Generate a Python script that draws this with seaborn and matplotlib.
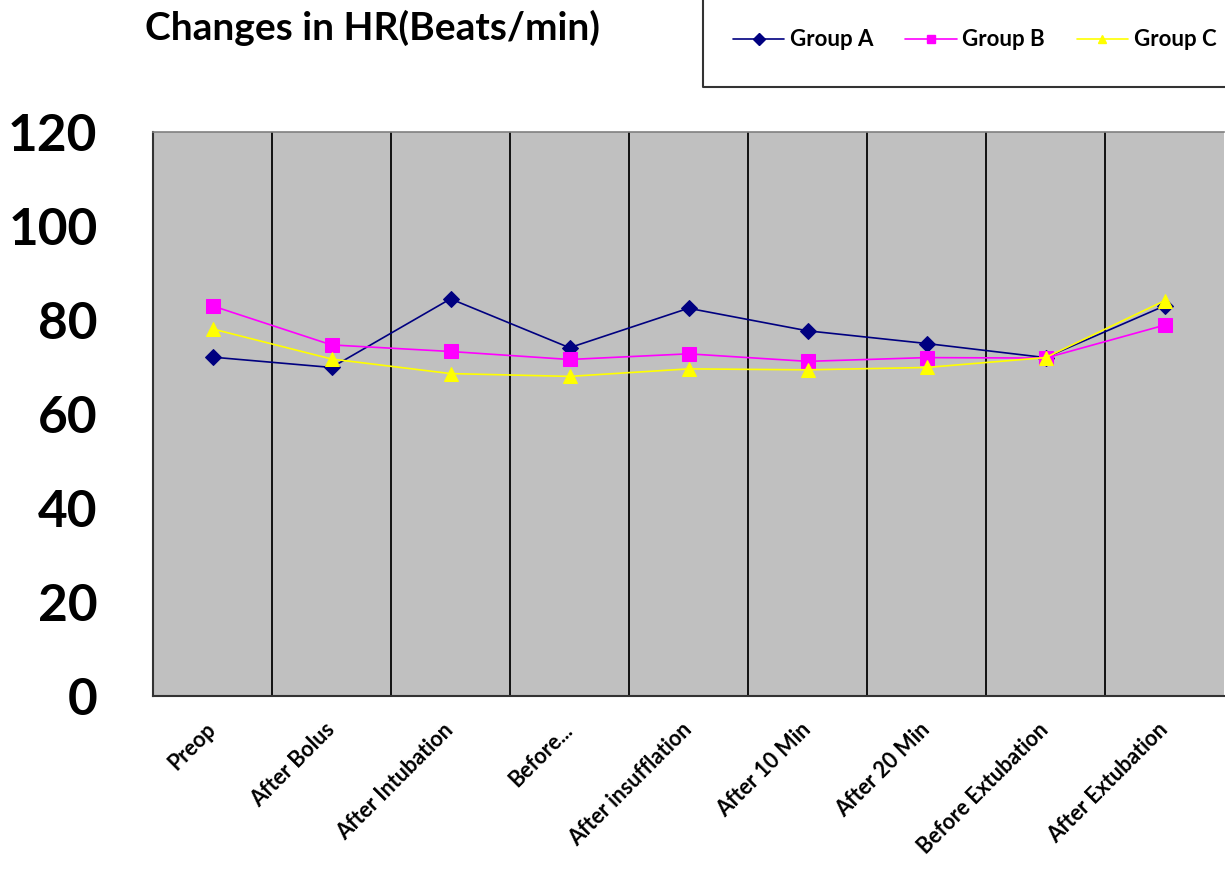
import matplotlib
matplotlib.use("Agg")
import matplotlib.pyplot as plt
import seaborn as sns
import pandas as pd
from matplotlib.lines import Line2D

categories = ["Preop", "After Bolus", "After Intubation", "Before...",
              "After insufflation", "After 10 Min", "After 20 Min",
              "Before Extubation", "After Extubation"]
group_a = [72.1, 69.9, 84.5, 74.1, 82.5, 77.7, 75.0, 72.0, 83.0]
group_b = [83.0, 74.7, 73.3, 71.6, 72.8, 71.2, 72.0, 71.9, 78.9]
group_c = [78.1, 71.7, 68.6, 68.0, 69.6, 69.4, 69.9, 72.0, 84.1]
series_names = ["Group A", "Group B", "Group C"]
y_ticks = [0, 20, 40, 60, 80, 100, 120]
title = "Changes in HR(Beats/min)"

rows = []
for name, vals in zip(series_names, [group_a, group_b, group_c]):
    for i, v in enumerate(vals):
        rows.append({"pos": i, "value": v, "group": name})
df = pd.DataFrame(rows)

sns.set_style("white")
plt.rcParams["font.family"] = ["Lato", "DejaVu Sans"]
plt.rcParams["text.color"] = "black"
plt.rcParams["xtick.color"] = "black"
plt.rcParams["ytick.color"] = "black"

W, H = 1225, 873
fig = plt.figure(figsize=(W / 100, H / 100), dpi=100)
ax = fig.add_axes([153 / W, 1 - 696 / H, (1224 - 153) / W, (696 - 132) / H])
ax.set_facecolor("#C0C0C0")

palette = {"Group A": "#000080", "Group B": "#FF00FF", "Group C": "#FFFF00"}
markers = {"Group A": "D", "Group B": "s", "Group C": "^"}
sns.lineplot(data=df, x="pos", y="value", hue="group", style="group",
             palette=palette, markers=markers, dashes=False, ax=ax,
             linewidth=1.2, markersize=9)

msizes = {"Group A": 8, "Group B": 10, "Group C": 10}
for line, name in zip(ax.lines[:3], series_names):
    line.set_markeredgecolor(palette[name])
    line.set_markersize(msizes[name])
    line.set_zorder(5)

leg = ax.get_legend()
if leg is not None:
    leg.remove()

ax.set_xlim(-0.5, len(categories) - 0.5)
ax.set_ylim(0, 120)
ax.set_xlabel("")
ax.set_ylabel("")

# vertical separators
for b in range(1, len(categories)):
    ax.axvline(b - 0.5, color="#111111", lw=1.4, zorder=1)

ax.set_xticks(range(len(categories)))
ax.set_xticklabels(categories, rotation=45, ha="right", va="center",
                   rotation_mode="anchor", fontsize=15.5, fontweight="bold")
ax.tick_params(axis="x", length=0, pad=22)
ax.set_xticks([b - 0.5 for b in range(len(categories) + 1)], minor=True)
ax.tick_params(axis="x", which="minor", length=6, width=1.3, color="#333333", direction="out")

ax.set_yticks(y_ticks)
ax.set_yticklabels([str(t) for t in y_ticks], fontsize=37, fontweight="bold")
ax.tick_params(axis="y", length=14, width=1.3, color="#333333", direction="out", pad=26)
for t in ax.get_yticklabels():
    t.set_color("black")
for t in ax.get_xticklabels():
    t.set_color("black")

for s in ["left", "bottom"]:
    ax.spines[s].set_color("#333333")
    ax.spines[s].set_linewidth(1.5)
ax.spines["top"].set_color("#808080")
ax.spines["top"].set_linewidth(1.2)
ax.spines["right"].set_visible(False)

fig.text(145 / W, 1 - 28 / H, title, fontsize=28, fontweight="bold",
         va="center", ha="left", color="black")

# legend frame (partially outside the figure)
fig.add_artist(Line2D([703 / W, 703 / W, 1.0], [1.0, 1 - 87 / H, 1 - 87 / H],
                      transform=fig.transFigure, color="#333333", lw=1.5))

handles = []
for name in series_names:
    handles.append(Line2D([0], [0], color=palette[name], lw=1.2,
                          marker=markers[name], markersize=6,
                          markerfacecolor=palette[name],
                          markeredgecolor=palette[name]))
fig.legend(handles, series_names, loc="center left",
           bbox_to_anchor=(733 / W, 1 - 40 / H), ncol=3, frameon=False,
           borderaxespad=0, borderpad=0,
           handlelength=2.3, handletextpad=0.25, columnspacing=1.45,
           prop={"family": ["Lato", "DejaVu Sans"], "weight": "bold", "size": 16})

fig.savefig("out.png", dpi=100)
